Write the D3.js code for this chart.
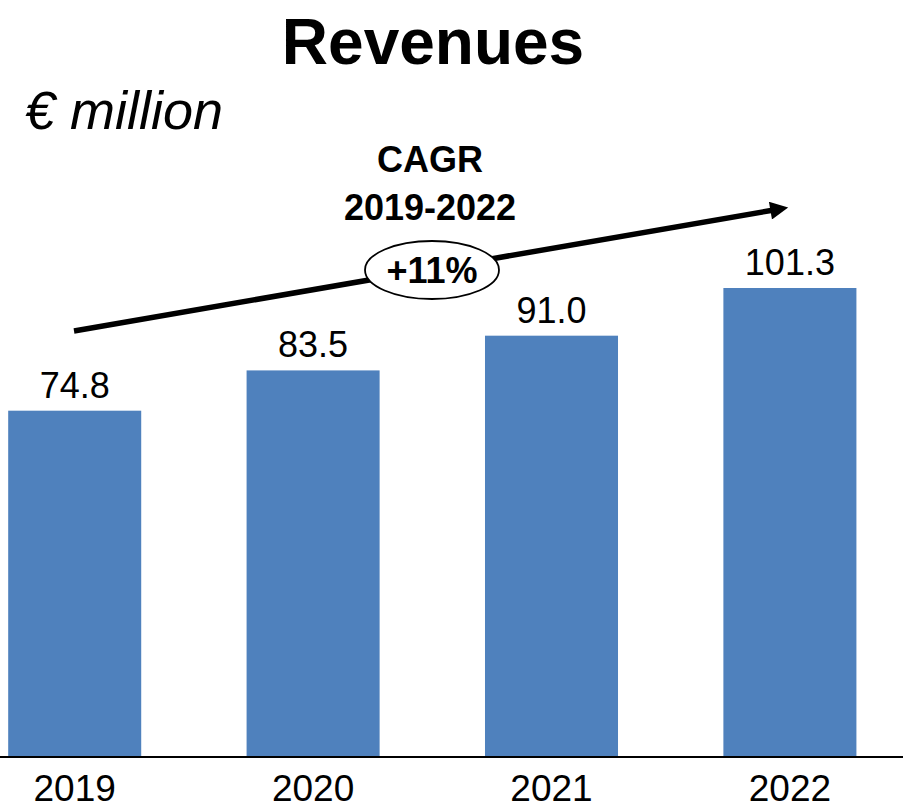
<!DOCTYPE html>
<html>
<head>
<meta charset="utf-8">
<script src="https://cdn.jsdelivr.net/npm/d3@7"></script>
<style>
  html, body { margin: 0; padding: 0; background: #fff; }
  svg { display: block; font-family: "Liberation Sans", Arial, Helvetica, sans-serif; }
</style>
</head>
<body>
<svg id="chart" width="903" height="810"></svg>
<script>
// Revenue by year (€ million)
const years = ["2019", "2020", "2021", "2022"];
const revenues = [74.8, 83.5, 91.0, 101.3];
const valueLabels = ["74.8", "83.5", "91.0", "101.3"];
const titleText = "Revenues";
const unitText = "€ million";
const cagrLines = ["CAGR", "2019-2022"];
const cagrValue = "+11%";

const svg = d3.select("#chart");
const W = 903;
const baseY = 757;

const x = d3.scaleBand()
  .domain(years)
  .range([-44.5, 909.1])
  .paddingInner(0.442)
  .paddingOuter(0.221);

const y = d3.scaleLinear()
  .domain([0, 101.3])
  .range([baseY, 288]);

// Title and unit
svg.append("text")
  .attr("x", 433).attr("y", 64)
  .attr("text-anchor", "middle")
  .attr("font-weight", "bold")
  .attr("font-size", 64)
  .text(titleText);

svg.append("text")
  .attr("x", 25).attr("y", 129)
  .attr("font-style", "italic")
  .attr("font-size", 54)
  .text(unitText);

// Bars
svg.append("g").selectAll("rect")
  .data(revenues)
  .join("rect")
  .attr("x", (d, i) => x(years[i]))
  .attr("width", x.bandwidth())
  .attr("y", d => y(d))
  .attr("height", d => baseY - y(d))
  .attr("fill", "#4F81BD");

// Value labels above bars
svg.append("g").selectAll("text")
  .data(revenues)
  .join("text")
  .attr("x", (d, i) => x(years[i]) + x.bandwidth() / 2)
  .attr("y", d => y(d) - 13)
  .attr("text-anchor", "middle")
  .attr("font-size", 36)
  .text((d, i) => valueLabels[i]);

// Category axis along the baseline
const xAxis = d3.axisBottom(x).tickSize(0).tickPadding(0);
const axisG = svg.append("g")
  .attr("transform", `translate(0,${baseY})`)
  .call(xAxis);
axisG.select(".domain").remove();
axisG.selectAll("text")
  .attr("font-family", "Liberation Sans, Arial, sans-serif")
  .attr("font-size", 37)
  .attr("fill", "#000")
  .attr("dy", 0)
  .attr("y", 44);

svg.append("line")
  .attr("x1", 0).attr("x2", W)
  .attr("y1", baseY).attr("y2", baseY)
  .attr("stroke", "#000")
  .attr("stroke-width", 2);

// CAGR trend arrow
const defs = svg.append("defs");
defs.append("marker")
  .attr("id", "arrowhead")
  .attr("viewBox", "0 0 10 10")
  .attr("refX", 2).attr("refY", 5)
  .attr("markerUnits", "userSpaceOnUse")
  .attr("markerWidth", 20).attr("markerHeight", 18)
  .attr("orient", "auto")
  .append("path")
  .attr("d", "M0,0 L10,5 L0,10 Z")
  .attr("fill", "#000");

svg.append("line")
  .attr("x1", 74).attr("y1", 331)
  .attr("x2", 774).attr("y2", 210)
  .attr("stroke", "#000")
  .attr("stroke-width", 5.5)
  .attr("marker-end", "url(#arrowhead)");

// CAGR heading
svg.append("g").selectAll("text")
  .data(cagrLines)
  .join("text")
  .attr("x", 430)
  .attr("y", (d, i) => 172 + i * 48)
  .attr("text-anchor", "middle")
  .attr("font-weight", "bold")
  .attr("font-size", 36)
  .text(d => d);

// CAGR value bubble
svg.append("ellipse")
  .attr("cx", 432).attr("cy", 270)
  .attr("rx", 67).attr("ry", 29)
  .attr("fill", "#fff")
  .attr("stroke", "#000")
  .attr("stroke-width", 1.8);

svg.append("text")
  .attr("x", 432).attr("y", 283)
  .attr("text-anchor", "middle")
  .attr("font-weight", "bold")
  .attr("font-size", 36)
  .text(cagrValue);
</script>
</body>
</html>
